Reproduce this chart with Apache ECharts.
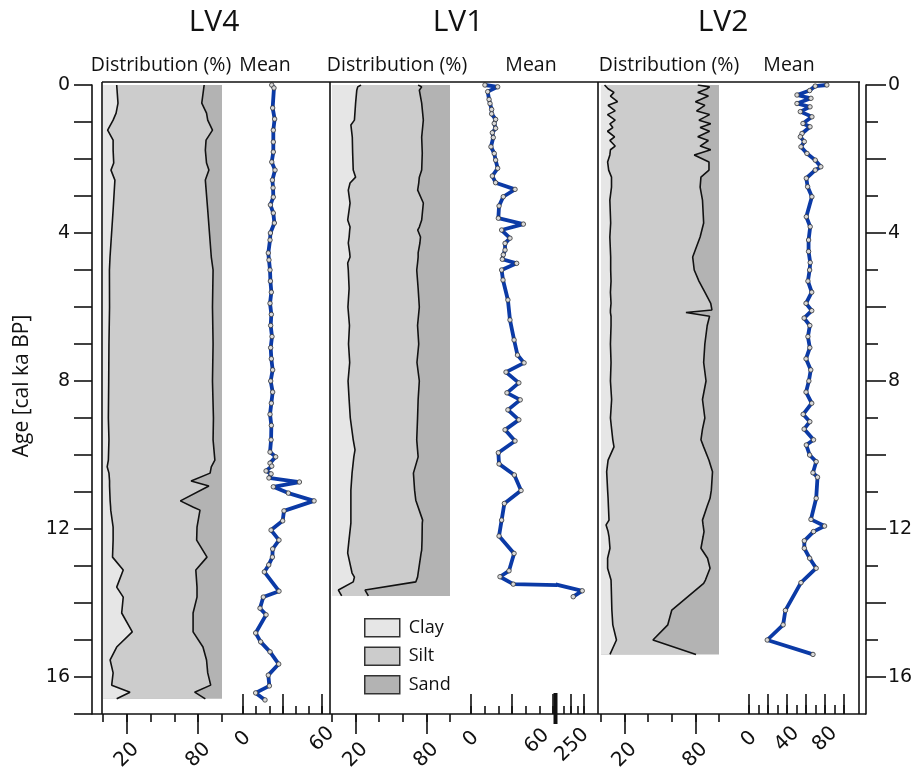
<!DOCTYPE html>
<html>
<head>
<meta charset="utf-8">
<script src="https://cdn.jsdelivr.net/npm/echarts@6/dist/echarts.min.js"></script>
<style>
  html, body { margin: 0; padding: 0; background: #ffffff; }
  #chart { width: 914px; height: 771px; }
</style>
</head>
<body>
<div id="chart"></div>
<script>
// ---------------- Grain-size records (age in cal ka BP) ----------------
// LV4: clay % and cumulative clay+silt %
const lv4DistAge = [0, 0.49, 0.76, 0.95, 1.22, 1.49, 1.76, 2.11, 2.30, 2.57, 3.38, 4.65, 5.0, 6.0, 7.0, 8.0, 9.0, 9.59, 10.14, 10.32, 10.49, 10.70, 10.84, 11.24, 11.41, 11.49, 11.95, 12.30, 12.76, 13.11, 13.57, 13.84, 14.27, 14.78, 15.19, 15.54, 15.89, 16.22, 16.41, 16.59];
const lv4Clay = [11.5, 12.6, 11, 8.5, 3.9, 8.5, 8.5, 9, 6.7, 10, 8.5, 5.9, 5.4, 5.5, 5, 4.8, 4.5, 5, 4.5, 3.5, 5, 5.5, 5.5, 6, 6.4, 6.5, 8.5, 8.5, 8, 17, 11.5, 17, 15.7, 24.6, 11.5, 6, 8.5, 7.3, 22.7, 11.5];
const lv4ClaySilt = [85, 83, 87, 88, 92, 86.6, 86, 87, 89, 86, 88, 91, 92.5, 92, 92.5, 92, 92.8, 92.5, 94, 91, 90, 74, 89, 65, 76, 81.5, 79, 78.7, 87.4, 78, 79, 79, 75.7, 75.7, 84, 87, 88, 90.5, 77, 86];
// LV4: mean grain size
const lv4MeanAge = [0, 0.08, 0.62, 0.92, 1.22, 1.54, 1.81, 2.08, 2.30, 2.57, 2.78, 3.03, 3.24, 3.46, 3.73, 4.0, 4.19, 4.54, 4.73, 5.0, 5.3, 5.6, 5.9, 6.2, 6.5, 6.8, 7.1, 7.4, 7.7, 8.0, 8.3, 8.6, 8.9, 9.2, 9.59, 9.92, 10.05, 10.22, 10.30, 10.43, 10.51, 10.62, 10.73, 10.86, 11.03, 11.24, 11.51, 11.78, 12.03, 12.30, 12.54, 12.76, 12.97, 13.16, 13.68, 13.84, 14.14, 14.32, 14.81, 15.05, 15.32, 15.65, 15.95, 16.24, 16.43, 16.62];
const lv4Mean = [21.8, 23.5, 22.5, 24, 23, 23, 23, 21.8, 24.3, 22.3, 22.8, 23, 20.8, 23, 23.8, 20.8, 20.5, 19.2, 19.7, 20.5, 20.8, 21.5, 20.5, 21.5, 21, 22, 21, 21.5, 22.5, 21, 22.5, 21.5, 20.5, 21.5, 21.3, 20.5, 24.8, 20.5, 21.8, 17.5, 21.3, 19.7, 42.8, 23, 34.4, 53.9, 31.1, 30.1, 21.3, 27.3, 22.5, 22.3, 19.5, 16.2, 27.3, 15.4, 12.9, 17.5, 9.6, 13.4, 20.5, 27.1, 19.2, 20, 9.6, 16.7];

// LV1
const lv1DistAge = [0, 0.05, 0.14, 0.49, 0.95, 1.08, 1.41, 1.84, 2.30, 2.49, 2.65, 2.84, 3.19, 3.65, 3.84, 3.92, 4.11, 4.27, 4.54, 4.65, 4.81, 5.0, 5.5, 6.0, 6.5, 7.0, 7.5, 8.0, 8.5, 9.0, 9.59, 9.86, 10.05, 10.49, 10.95, 11.22, 11.76, 11.84, 12.30, 12.57, 12.65, 13.19, 13.30, 13.43, 13.65, 13.81];
const lv1Clay = [24.6, 21.8, 21, 20, 19, 16, 17.2, 17.5, 18, 20, 15.3, 13.8, 15.3, 13.3, 15.3, 15, 14.5, 13.8, 15, 15.3, 13.3, 13.8, 14.5, 13.5, 14.8, 14, 15, 13.6, 14.5, 15.5, 18, 19.5, 18.5, 17, 16, 16, 16, 16, 14.4, 13.5, 13.3, 17, 19, 18, 5.4, 8.2];
const lv1ClaySilt = [73, 76, 74, 76, 77.4, 77, 76, 76.5, 76, 74, 73.5, 72.6, 77.4, 76, 74, 72.6, 75, 74.5, 73, 73, 72.5, 71.8, 73, 74, 72.5, 73.5, 72, 74, 73, 72.5, 71.8, 72.5, 73, 69, 70, 71, 76.8, 76.5, 76.3, 76, 75.5, 73, 72.5, 71, 28, 30.8];
const lv1MeanAge = [0, 0.05, 0.18, 0.39, 0.5, 0.66, 0.78, 0.93, 1.04, 1.17, 1.29, 1.42, 1.67, 1.85, 2.03, 2.25, 2.46, 2.64, 2.82, 3.02, 3.27, 3.6, 3.76, 3.92, 4.14, 4.28, 4.46, 4.59, 4.71, 4.82, 5.0, 5.27, 5.81, 6.35, 6.89, 7.3, 7.51, 7.76, 8.05, 8.32, 8.51, 8.78, 9.05, 9.32, 9.62, 9.94, 10.24, 10.54, 10.96, 11.31, 11.76, 12.19, 12.66, 13.13, 13.29, 13.49, 13.67, 13.83];
const lv1Mean = [10.2, 19.5, 12.2, 13.2, 13.9, 15.1, 15.1, 18, 17, 18, 15.6, 16.3, 14.6, 17, 18, 19.5, 15.6, 18, 32.2, 23.6, 20.5, 20, 38.3, 22.4, 28.5, 24.9, 24.9, 23.6, 22.9, 33.4, 22.4, 23.4, 27, 28.5, 31.5, 34, 38.8, 25.6, 35, 26.3, 36, 27, 35, 24.9, 32.2, 20, 20.5, 31.7, 36.6, 24.4, 22.4, 20.5, 31.5, 27.8, 21.2, 30.9, 237, 170];
// samples above the axis break (coarse base of LV1)
const lv1BreakFrom = 55;

// LV2
const lv2DistAge = [0, 0.05, 0.1, 0.2, 0.3, 0.45, 0.55, 0.7, 0.8, 0.95, 1.05, 1.15, 1.25, 1.4, 1.5, 1.65, 1.75, 1.89, 2.08, 2.30, 2.49, 2.76, 3.11, 3.73, 4.11, 4.65, 5.0, 5.3, 5.6, 5.9, 6.08, 6.15, 6.25, 6.5, 7.0, 7.5, 8.0, 8.5, 9.0, 9.3, 9.59, 9.78, 10.14, 10.45, 10.95, 11.17, 11.4, 11.76, 11.89, 12.07, 12.21, 12.52, 12.79, 13.06, 13.38, 13.47, 14.19, 14.59, 15.0, 15.39];
const lv2Clay = [3, 4, 6, 11, 8, 14, 6, 12, 5.5, 12, 7.5, 10, 5.5, 11.5, 7.5, 12, 8, 7.5, 5.6, 6.5, 8.9, 8.9, 7.5, 8.2, 7.5, 8.2, 8.2, 8.5, 8, 8.5, 8, 8, 8.5, 8.5, 8, 8.5, 8, 9, 8, 9, 10, 11, 6, 4.8, 5.6, 6, 6.3, 6.8, 4.3, 6, 6.8, 7.6, 5.6, 5.6, 8.5, 8.6, 9.2, 10, 13.1, 7.6];
const lv2ClaySilt = [82, 92, 90, 82, 91, 80, 88, 81, 92, 83, 93, 84, 92, 82, 91, 84, 93, 79, 91.5, 91.5, 84.7, 84, 86, 87, 84, 77.7, 79, 83, 88, 93, 94, 72, 92, 90, 88, 87, 89, 86, 88, 86, 84.7, 87, 91.5, 94.5, 93.5, 92.4, 89.8, 86, 86.5, 87.3, 86.5, 84.7, 90.3, 92.4, 88.5, 87, 60, 56.6, 44, 80.5];
const lv2MeanAge = [0, 0.03, 0.15, 0.27, 0.36, 0.5, 0.59, 0.72, 0.86, 1.04, 1.13, 1.31, 1.4, 1.53, 1.67, 1.85, 2.03, 2.21, 2.3, 2.52, 2.75, 3.02, 3.56, 3.83, 4.19, 4.5, 4.8, 5.0, 5.3, 5.6, 5.9, 6.1, 6.3, 6.5, 6.8, 7.1, 7.4, 7.7, 8.0, 8.3, 8.6, 8.9, 9.1, 9.3, 9.59, 9.73, 10.0, 10.18, 10.48, 10.6, 11.17, 11.74, 11.92, 12.07, 12.32, 12.52, 12.79, 13.06, 13.45, 14.2, 14.59, 15.0, 15.39];
const lv2Mean = [81.9, 69.7, 63.8, 50.5, 65.2, 50.5, 64.2, 54, 66.2, 56.8, 64.2, 55.8, 54, 58.2, 54.7, 61, 69.7, 75.6, 69.7, 60.3, 61.7, 66.2, 60.3, 64.4, 62.7, 62.7, 64.4, 63.8, 62, 66, 60, 66, 58, 64, 62, 64, 60, 65, 63, 60, 66, 57, 64, 58, 67.9, 60.3, 63.8, 70.7, 67.3, 72.1, 70.7, 65.2, 79.5, 67.9, 58.2, 58.2, 63.8, 70.7, 54.7, 38.3, 35.9, 19.2, 67.3];

// ---------------- Axis ticks and labels ----------------
const ageTicks = [0, 1, 2, 3, 4, 5, 6, 7, 8, 9, 10, 11, 12, 13, 14, 15, 16, 17];
const ageMajorTicks = [0, 2, 4, 6, 8, 10, 12, 14, 16];
const ageMinorTicks = [1, 3, 5, 7, 9, 11, 13, 15];
const ageLabels = [0, 4, 8, 12, 16];
const distTicks = [0, 20, 40, 60, 80, 100];
const distLongTicks = [20, 80];
const distLabels = [20, 80];
const meanTicks60 = [0, 10, 20, 30, 40, 50, 60];
const meanLong60 = [0, 30, 60];
const meanLabels60 = [0, 60];
const lv1MeanLabels = [0];
const lv1BreakLabels = ['60', '250'];
const lv1UpperTicks = [100, 150, 200, 250];
const lv1UpperLong = [150, 250];
const lv2MeanTicks = [0, 10, 20, 30, 40, 50, 60, 70, 80, 90, 100];
const lv2MeanLong = [0, 20, 40, 60, 80, 100];
const lv2MeanLabels = [0, 40, 80];

const AGE_MAX = 17;
const TOP = 85, HEIGHT = 629;
const TICK_FONT = 'DejaVu Sans';
const TEXT_FONT = 'Open Sans';
const INK = '#111111';
const CLAY_COLOR = '#e6e6e6', SILT_COLOR = '#cccccc', SAND_COLOR = '#b3b3b3';
const MEAN_COLOR = '#0b3aa6';

const chart = echarts.init(document.getElementById('chart'), null, { renderer: 'canvas' });

const grid = [];
const xAxis = [];
const yAxis = [];
const series = [];

function addGrid(left, width) {
  grid.push({ left: left, top: TOP, width: width, height: HEIGHT, outerBoundsMode: 'none', containLabel: false });
  const gi = grid.length - 1;
  yAxis.push({ type: 'value', gridIndex: gi, min: 0, max: AGE_MAX, inverse: true, show: false, axisLine: { onZero: false } });
  return { gi: gi, yi: yAxis.length - 1 };
}

function tickAxis(gi, min, max, ticks, len, inside, labels, margin) {
  xAxis.push({
    type: 'value', gridIndex: gi, min: min, max: max, position: 'bottom',
    axisLine: { show: false, onZero: false }, splitLine: { show: false },
    axisTick: { show: true, inside: inside, length: len, customValues: ticks, lineStyle: { color: INK, width: 1.6 } },
    axisLabel: labels ? {
      show: true, customValues: labels, rotate: 45, margin: margin, align: 'center', verticalAlign: 'middle',
      fontFamily: TICK_FONT, fontSize: 20, color: INK
    } : { show: false, customValues: ticks }
  });
  return xAxis.length - 1;
}

function pairs(xs, ages) { return ages.map((a, i) => [xs[i], a]); }

// Stacked clay / silt / sand fill of one core, drawn as polygons through the axes
function fillSeries(name, color, xi, yi, ages, bound) {
  return {
    type: 'custom', name: name, xAxisIndex: xi, yAxisIndex: yi, silent: true, z: 1,
    itemStyle: { color: color },
    data: pairs(bound, ages),
    renderItem: function (params, api) {
      if (params.dataIndex !== 0) return null;
      const pts = [api.coord([0, ages[0]])];
      for (let i = 0; i < ages.length; i++) pts.push(api.coord([bound[i], ages[i]]));
      pts.push(api.coord([0, ages[ages.length - 1]]));
      return { type: 'polygon', shape: { points: pts }, style: { fill: color } };
    }
  };
}

function distribution(left, width, ages, clay, claySilt) {
  const g = addGrid(left, width);
  const xi = tickAxis(g.gi, 0, 100, distLongTicks, 20, false, distLabels, 41);
  tickAxis(g.gi, 0, 100, distTicks, 8, false, null, 0);
  const full = ages.map(() => 100);
  series.push(fillSeries('Sand', SAND_COLOR, xi, g.yi, ages, full));
  series.push(fillSeries('Silt', SILT_COLOR, xi, g.yi, ages, claySilt));
  series.push(fillSeries('Clay', CLAY_COLOR, xi, g.yi, ages, clay));
  [clay, claySilt].forEach(function (v) {
    series.push({
      type: 'line', xAxisIndex: xi, yAxisIndex: g.yi, data: pairs(v, ages),
      showSymbol: false, silent: true, z: 3,
      lineStyle: { color: INK, width: 1.6 }
    });
  });
}

function meanLine(xi, yi, values, ages) {
  series.push({
    type: 'line', xAxisIndex: xi, yAxisIndex: yi, data: pairs(values, ages),
    clip: true, z: 4, silent: true,
    symbol: 'circle', symbolSize: 4.5, showSymbol: true,
    lineStyle: { color: MEAN_COLOR, width: 3.8 },
    itemStyle: { color: '#d9d9d9', borderColor: '#333333', borderWidth: 0.8 }
  });
}

// Age frame with the two labelled age axes
const frame = addGrid(92, 774);
xAxis.push({ type: 'value', gridIndex: frame.gi, min: 0, max: 1, show: false });
yAxis.push({
  type: 'value', gridIndex: frame.gi, min: 0, max: AGE_MAX, inverse: true, position: 'left',
  axisLine: { show: true, onZero: false, lineStyle: { color: INK, width: 1.6 } },
  splitLine: { show: false },
  axisTick: { show: true, length: 18, customValues: ageTicks, lineStyle: { color: INK, width: 1.6 } },
  axisLabel: { customValues: ageLabels, margin: 22, fontFamily: TICK_FONT, fontSize: 19, color: INK }
});
yAxis.push({
  type: 'value', gridIndex: frame.gi, min: 0, max: AGE_MAX, inverse: true, position: 'right',
  axisLine: { show: true, onZero: false, lineStyle: { color: INK, width: 1.6 } },
  splitLine: { show: false },
  axisTick: { show: true, length: 20, customValues: ageMajorTicks, lineStyle: { color: INK, width: 1.6 } },
  axisLabel: { customValues: ageLabels, margin: 22, fontFamily: TICK_FONT, fontSize: 19, color: INK }
});
yAxis.push({
  type: 'value', gridIndex: frame.gi, min: 0, max: AGE_MAX, inverse: true, position: 'right',
  axisLine: { show: false, onZero: false }, splitLine: { show: false },
  axisTick: { show: true, length: 12, customValues: ageMinorTicks, lineStyle: { color: INK, width: 1.6 } },
  axisLabel: { show: false, customValues: ageMinorTicks }
});

// LV4
distribution(103, 119, lv4DistAge, lv4Clay, lv4ClaySilt);
let m = addGrid(243, 87);
let xi = tickAxis(m.gi, 0, 66, meanLong60, 20, true, meanLabels60, 25);
tickAxis(m.gi, 0, 66, meanTicks60, 8, true, null, 0);
meanLine(xi, m.yi, lv4Mean, lv4MeanAge);

// LV1 (mean axis compressed above the break)
distribution(332, 118, lv1DistAge, lv1Clay, lv1ClaySilt);
m = addGrid(471, 83);
xi = tickAxis(m.gi, 0, 60.7, meanLong60, 20, true, lv1MeanLabels, 25);
tickAxis(m.gi, 0, 60.7, meanTicks60, 8, true, null, 0);
meanLine(xi, m.yi, lv1Mean, lv1MeanAge);
m = addGrid(558, 26);
xi = tickAxis(m.gi, 57, 250, lv1UpperLong, 20, true, null, 0);
tickAxis(m.gi, 57, 250, lv1UpperTicks, 8, true, null, 0);
meanLine(xi, m.yi, lv1Mean.slice(lv1BreakFrom), lv1MeanAge.slice(lv1BreakFrom));

// LV2
distribution(601, 118, lv2DistAge, lv2Clay, lv2ClaySilt);
m = addGrid(749, 109);
xi = tickAxis(m.gi, 0, 114.7, lv2MeanLong, 20, true, lv2MeanLabels, 25);
tickAxis(m.gi, 0, 114.7, lv2MeanTicks, 9, true, null, 0);
meanLine(xi, m.yi, lv2Mean, lv2MeanAge);

function label(text, x, y, size, rot, family) {
  return {
    type: 'text', x: x, y: y, rotation: rot || 0, z: 50, silent: true,
    style: { text: text, fontFamily: family || TEXT_FONT, fontSize: size, fill: INK, align: 'center', verticalAlign: 'middle' }
  };
}
function line(x1, y1, x2, y2, w) {
  return { type: 'line', z: 40, silent: true, shape: { x1: x1, y1: y1, x2: x2, y2: y2 }, style: { stroke: INK, lineWidth: w || 1.6 } };
}

const graphic = [
  label('LV4', 214, 22, 30), label('LV1', 458, 22, 30), label('LV2', 723, 22, 30),
  label('Distribution (%)', 161, 65, 19.5), label('Mean', 265, 65, 19.5),
  label('Distribution (%)', 397, 65, 19.5), label('Mean', 531, 65, 19.5),
  label('Distribution (%)', 669, 65, 19.5), label('Mean', 789, 65, 19.5),
  label('Age [cal ka BP]', 22, 386, 21, Math.PI / 2),
  // labels either side of the LV1 mean-axis break
  label(lv1BreakLabels[0], 537, 741, 20, Math.PI / 4, TICK_FONT),
  label(lv1BreakLabels[1], 572, 745, 20, Math.PI / 4, TICK_FONT),
  line(102, 82, 860, 82), line(102, 82, 102, 714), line(330, 82, 330, 714),
  line(598, 82, 598, 714), line(859, 82, 859, 714), line(92, 714, 866, 714),
  { type: 'rect', z: 45, silent: true, shape: { x: 553.5, y: 693, width: 4, height: 31 }, style: { fill: INK } }
];

chart.setOption({
  animation: false,
  backgroundColor: '#ffffff',
  grid: grid,
  xAxis: xAxis,
  yAxis: yAxis,
  series: series,
  graphic: graphic,
  legend: {
    data: ['Clay', 'Silt', 'Sand'], orient: 'vertical', left: 364, top: 618, padding: 0,
    itemWidth: 35, itemHeight: 18, itemGap: 9, selectedMode: false,
    icon: 'rect',
    itemStyle: { borderColor: '#333333', borderWidth: 1.5 },
    textStyle: { fontFamily: TEXT_FONT, fontSize: 18, color: INK, padding: [0, 0, 0, 4] }
  }
});
</script>
</body>
</html>
